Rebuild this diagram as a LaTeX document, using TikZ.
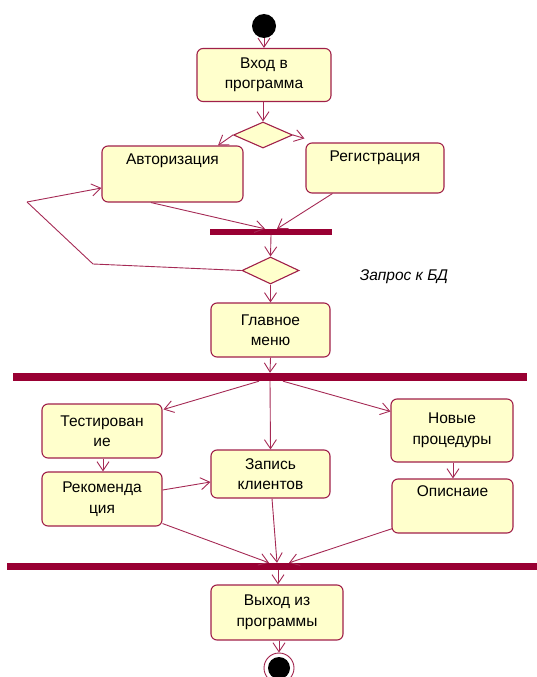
\documentclass[tikz,border=0pt]{standalone}
\usepackage{fontspec}
\setmainfont{Liberation Sans}
\usetikzlibrary{arrows.meta,shapes.geometric,calc}
\definecolor{umlline}{HTML}{A52A55}
\definecolor{umlborder}{HTML}{A0204A}
\definecolor{umlbar}{HTML}{990033}
\definecolor{umlfill}{HTML}{FFFFCC}
\begin{document}
\begin{tikzpicture}[x=1pt,y=-1pt,
  every node/.style={font=\fontsize{15.5}{20.5}\selectfont},
  act/.style={draw=umlborder,fill=umlfill,line width=1.1pt,rounded corners=6pt,
    inner sep=0pt,align=center},
  dec/.style={diamond,draw=umlborder,fill=umlfill,line width=1.1pt,inner sep=0pt},
  sync/.style={fill=umlbar,inner sep=0pt},
  flow/.style={draw=umlline,line width=0.9pt,-{Straight Barb[length=9pt,width=12pt,line width=0.9pt]}},
  flowline/.style={draw=umlline,line width=0.9pt}]
\useasboundingbox (0,0) rectangle (537,677);

% initial and final states
\node[circle,fill=black,inner sep=0pt,minimum size=24pt] (start) at (264,26) {};
\node[circle,draw=umlborder,line width=0.9pt,inner sep=0pt,minimum size=30pt] (finring) at (279,668) {};
\node[circle,fill=black,inner sep=0pt,minimum size=22pt] (fin) at (279,668) {};

% activities
\node[act,minimum width=134pt,minimum height=53pt] (vhod) at (264,75) {Вход в\\программа};
\node[act,minimum width=141pt,minimum height=56pt,
  label={[anchor=north,inner sep=0pt,yshift=-8pt]north:Авторизация}] (avt) at (172.5,174) {};
\node[act,minimum width=138pt,minimum height=50pt,
  label={[anchor=north,inner sep=0pt,yshift=-8pt]north:Регистрация}] (reg) at (375,168) {};
\node[act,minimum width=119pt,minimum height=54pt] (menu) at (270.5,330) {Главное\\меню};
\node[act,minimum width=120pt,minimum height=54pt] (test) at (102,431) {Тестирован\\ие};
\node[act,minimum width=122pt,minimum height=63pt] (newp) at (452,430.5) {Новые\\процедуры};
\node[act,minimum width=119pt,minimum height=48pt] (zap) at (270.5,474) {Запись\\клиентов};
\node[act,minimum width=120pt,minimum height=54pt] (rek) at (102,499) {Рекоменда\\ция};
\node[act,minimum width=121pt,minimum height=54pt,
  label={[anchor=north,inner sep=0pt,yshift=-7pt]north:Описнаие}] (opis) at (452.5,506) {};
\node[act,minimum width=132pt,minimum height=55pt] (exit) at (277,612.5) {Выход из\\программы};

% decisions
\node[dec,minimum width=59pt,minimum height=26pt] (d1) at (263,135) {};
\node[dec,minimum width=57pt,minimum height=27pt] (d2) at (270.5,270.5) {};

% synchronisation bars
\node[sync,minimum width=122pt,minimum height=6pt] (bar1) at (271,232) {};
\node[sync,minimum width=514pt,minimum height=8pt] (bar2) at (270,377) {};
\node[sync,minimum width=530pt,minimum height=7pt] (bar3) at (272,566.5) {};

% note
\node[font=\fontsize{15.5}{18}\itshape\selectfont,inner sep=0pt] (note) at (404,277) {Запрос к БД};

% loop waypoints
\coordinate (lp1) at (93,264);
\coordinate (lp2) at (27,202);

% flows
\path[flow] (start.south) -- (vhod.north);
\path[flow] ([xshift=-1pt]vhod.south) -- (d1.north);
\path[flow] (d1.west) -- ([xshift=45.5pt]avt.north);
\path[flow] (d1.east) -- ([xshift=-1pt,yshift=4pt]reg.north west);
\path[flow] ([xshift=49.5pt]avt.south west) -- ([xshift=-6pt]bar1.north);
\path[flow] ([xshift=27pt]reg.south west) -- ([xshift=6pt]bar1.north);
\path[flow] (bar1.south) -- (d2.north);
\path[flowline] (d2.west) -- (lp1) -- (lp2);
\path[flow] (lp2) -- ([yshift=-14pt]avt.west);
\path[flow] (d2.south) -- (menu.north);
\path[flow] (menu.south) -- (bar2.north);
\path[flow] ([xshift=-11pt]bar2.south) -- ([xshift=1pt,yshift=-6pt]test.north east);
\path[flow] (bar2.south) -- (zap.north);
\path[flow] ([xshift=13pt]bar2.south) -- ([yshift=-13pt]newp.north west);
\path[flow] ([xshift=1pt]test.south) -- ([xshift=1pt]rek.north);
\path[flow] ([yshift=9pt]rek.east) -- ([yshift=-8pt]zap.west);
\path[flow] ([xshift=1pt]newp.south) -- ([xshift=0.5pt]opis.north);
\path[flow] ([yshift=3pt]rek.south east) -- ([xshift=-3pt]bar3.north);
\path[flow] ([xshift=1.5pt]zap.south) -- ([xshift=5pt]bar3.north);
\path[flow] ([xshift=1pt,yshift=5pt]opis.south west) -- ([xshift=17pt]bar3.north);
\path[flow] ([xshift=6pt]bar3.south) -- ([xshift=1pt]exit.north);
\path[flow] ([xshift=2pt]exit.south) -- (finring.north);
\end{tikzpicture}
\end{document}
